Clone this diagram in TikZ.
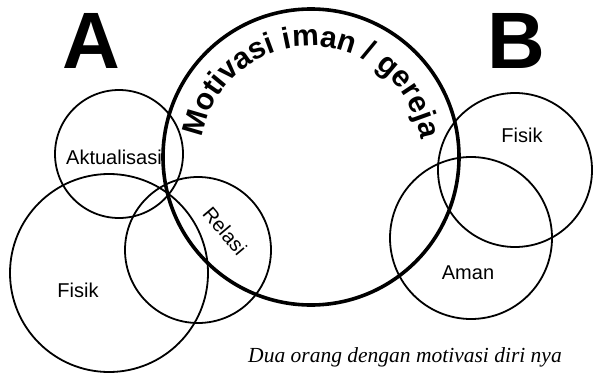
\documentclass[tikz,border=0pt]{standalone}
\usepackage{fontspec}
\setmainfont{Liberation Sans}
\newfontfamily\capfont{Liberation Serif}
\usetikzlibrary{decorations.text}

\begin{document}
\begin{tikzpicture}[x=1pt, y=1pt,
    kreis/.style={draw, line width=1.8pt},
    hauptkreis/.style={draw, line width=3.6pt},
    txt/.style={inner sep=0pt, font=\fontsize{20}{24}\selectfont},
    gross/.style={inner sep=0pt, font=\bfseries\fontsize{80}{80}\selectfont}]
    % Bildbereich
    \useasboundingbox (0,0) rectangle (593,373);
    % Grosser Kreis
    \draw[hauptkreis] (311,216) circle (148);
    % Person A
    \draw[kreis] (119,219) circle (64);
    \draw[kreis] (109,100) circle (99);
    \draw[kreis] (198,123) circle (73);
    % Person B
    \draw[kreis] (515,203) circle (77);
    \draw[kreis] (471,135) circle (81);
    % Beschriftung
    \node[gross] (labelA) at (91,332) {A};
    \node[gross] (labelB) at (516,332) {B};
    \node[txt] (aktual) at (114,216) {Aktualisasi};
    \node[txt] (fisikA) at (78,83) {Fisik};
    \node[txt, rotate=-50] (relasi) at (225,142) {Relasi};
    \node[txt] (fisikB) at (522,238) {Fisik};
    \node[txt] (aman) at (468,100) {Aman};
    % Text am Bogen
    \path[decorate, decoration={text along path, text align=fit to path,
        text={|\bfseries\fontsize{30}{30}\selectfont|Motivasi iman / gereja}}]
        (311,216) ++(170:111) arc[start angle=170, end angle=10, radius=111];
    % Untertitel
    \node[inner sep=0pt, font=\capfont\itshape\fontsize{21.5}{24}\selectfont] (unter) at (405,16) {Dua orang dengan motivasi diri nya};
\end{tikzpicture}
\end{document}
